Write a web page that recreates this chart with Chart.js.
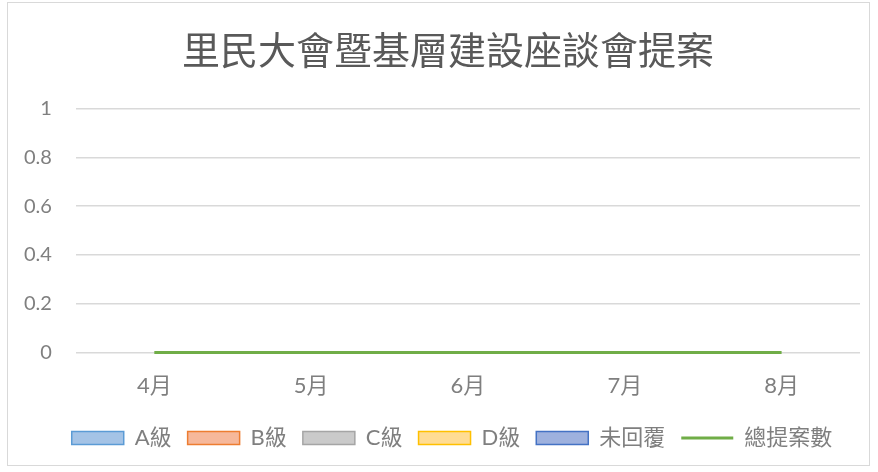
<!DOCTYPE html>
<html>
<head>
<meta charset="utf-8">
<script src="https://cdn.jsdelivr.net/npm/chart.js@4/dist/chart.umd.min.js"></script>
<style>
  body { margin: 0; background: #fff; }
  #wrap { position: relative; width: 878px; height: 472px; }
  #frame { position: absolute; left: 7px; top: 2px; width: 861px; height: 462px; border: 1px solid #d9d9d9; pointer-events: none; }
</style>
</head>
<body>
<div id="wrap">
  <canvas id="chart" width="878" height="472"></canvas>
  <div id="frame"></div>
</div>
<script>
// Chart data
const months = ['4月', '5月', '6月', '7月', '8月'];
const gradeA = [0, 0, 0, 0, 0];
const gradeB = [0, 0, 0, 0, 0];
const gradeC = [0, 0, 0, 0, 0];
const gradeD = [0, 0, 0, 0, 0];
const noReply = [0, 0, 0, 0, 0];
const totalProposals = [0, 0, 0, 0, 0];
const yMin = 0, yMax = 1, yStep = 0.2;

const FONT = 'Lato, "Noto Sans CJK TC", sans-serif';
const TEXT = '#7f7f7f';

// legend swatch colours (fill, border) per dataset
const swatch = [
    ['#a4c3e6', '#5b9bd5'],
    ['#f6b89b', '#ed7d31'],
    ['#cacaca', '#a5a5a5'],
    ['#ffdc94', '#ffc000'],
    ['#9eb1de', '#4472c4'],
    ['#70ad47', '#70ad47']
];

function bar(label, data, i) {
    return {
        type: 'bar', label: label, data: data,
        backgroundColor: swatch[i][0], borderColor: swatch[i][1], borderWidth: 0
    };
}

// the title and legend sit a bit right of the canvas centre in the original
const shiftBoxes = {
    id: 'shiftBoxes',
    afterLayout: function (chart) {
        chart.legend.left += 22; chart.legend.right += 22;
        chart.titleBlock.left += 18; chart.titleBlock.right += 18;
    }
};

const ctx = document.getElementById('chart').getContext('2d');
new Chart(ctx, {
    data: {
        labels: months,
        datasets: [
            bar('A級', gradeA, 0),
            bar('B級', gradeB, 1),
            bar('C級', gradeC, 2),
            bar('D級', gradeD, 3),
            bar('未回覆', noReply, 4),
            {
                type: 'line', label: '總提案數', data: totalProposals,
                borderColor: '#70ad47', backgroundColor: '#70ad47',
                borderWidth: 3, pointRadius: 0, tension: 0, clip: 6
            }
        ]
    },
    options: {
        responsive: false,
        animation: false,
        layout: { padding: { left: 0, right: 18, top: 29, bottom: 13 } },
        scales: {
            x: {
                offset: true,
                grid: { display: false },
                border: { display: false },
                ticks: { color: TEXT, font: { family: FONT, size: 22 }, padding: 12 }
            },
            y: {
                min: yMin, max: yMax,
                grid: { color: '#d9d9d9', lineWidth: 1.5, drawTicks: false },
                border: { display: false },
                ticks: {
                    stepSize: yStep, color: TEXT, font: { family: FONT, size: 20 }, padding: 24,
                    callback: function (v) { return String(Math.round(v * 10) / 10); }
                }
            }
        },
        plugins: {
            title: {
                display: true,
                text: '里民大會暨基層建設座談會提案',
                color: '#595959',
                font: { family: FONT, size: 38, weight: 'normal' },
                padding: { top: 0, bottom: 34 }
            },
            legend: {
                position: 'bottom',
                labels: {
                    color: TEXT,
                    font: { family: FONT, size: 22 },
                    usePointStyle: true,
                    pointStyleWidth: 52,
                    boxHeight: 13,
                    padding: 16,
                    generateLabels: function (chart) {
                        const items = Chart.defaults.plugins.legend.labels.generateLabels(chart);
                        items.sort(function (a, b) { return a.datasetIndex - b.datasetIndex; });
                        items.forEach(function (item) {
                            const i = item.datasetIndex;
                            item.fillStyle = swatch[i][0];
                            item.strokeStyle = swatch[i][1];
                            item.lineWidth = i === 5 ? 3 : 1.5;
                            item.pointStyle = i === 5 ? 'line' : 'rect';
                        });
                        return items;
                    }
                }
            },
            tooltip: { enabled: false }
        }
    },
    plugins: [shiftBoxes]
});
</script>
</body>
</html>
